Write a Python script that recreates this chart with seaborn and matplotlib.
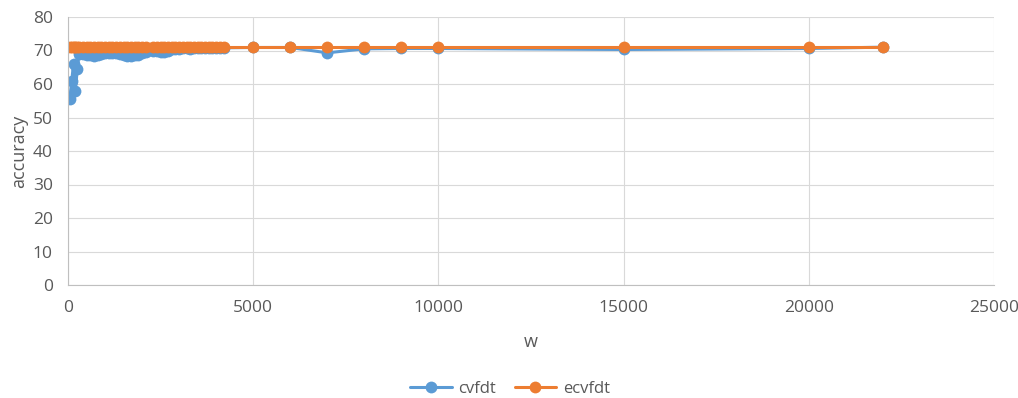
import matplotlib
matplotlib.use("Agg")
import matplotlib.pyplot as plt
import seaborn as sns
import pandas as pd
import numpy as np

sns.set_style("white")
plt.rcParams['font.family'] = ['Open Sans', 'DejaVu Sans']

# window sizes
w = [50, 100, 150, 200, 250, 300, 400, 500, 600, 700, 800, 900, 1000,
     1100, 1200, 1300, 1400, 1500, 1600, 1700, 1800, 1900, 2000, 2100,
     2300, 2400, 2500, 2600, 2700, 2800, 2900, 3000, 3100, 3200, 3300,
     3400, 3500, 3600, 3700, 3800, 3900, 4000, 4100, 4200,
     5000, 6000, 7000, 8000, 9000, 10000, 15000, 20000, 22000]

cvfdt = [55.5, 61, 66, 58, 64.5, 69, 69, 68.8, 68.6, 68.5, 68.7, 69, 69.2,
         69.3, 69.3, 69.2, 69, 68.7, 68.5, 68.5, 68.6, 68.8, 69.2, 69.6,
         70, 69.8, 69.6, 69.7, 70, 70.3, 70.5, 70.5, 70.6, 70.6, 70.5,
         70.6, 70.6, 70.6, 70.7, 70.7, 70.7, 70.7, 70.7, 70.8,
         70.9, 70.9, 69.3, 70.5, 70.6, 70.6, 70.3, 70.6, 71.0]

ecvfdt = [71.1] * 44 + [71.1, 71.1, 71.1, 71.1, 71.1, 71.1, 71.1, 71.1, 71.1]

df = pd.DataFrame({'w': w * 2,
                   'accuracy': cvfdt + ecvfdt,
                   'series': ['cvfdt'] * len(w) + ['ecvfdt'] * len(w)})

fig = plt.figure(figsize=(10.18, 3.98), dpi=100)
ax = fig.add_axes([68 / 1018, 1 - 285 / 398, 926 / 1018, 268 / 398])

sns.lineplot(data=df, x='w', y='accuracy', hue='series',
             palette={'cvfdt': '#5B9BD5', 'ecvfdt': '#ED7D31'},
             marker='o', markersize=8.5, markeredgewidth=0, linewidth=2.2,
             sort=False, ax=ax, legend=True)

ax.set_xlim(0, 25000)
ax.set_ylim(0, 80)
ax.set_xticks(np.arange(0, 25001, 5000))
ax.set_yticks(np.arange(0, 81, 10))
ax.grid(True, color='#D9D9D9', linewidth=0.8)
ax.set_axisbelow(True)
for s in ['top', 'right']:
    ax.spines[s].set_visible(False)
for s in ['left', 'bottom']:
    ax.spines[s].set_color('#BFBFBF')
    ax.spines[s].set_linewidth(0.8)
ax.tick_params(colors='#595959', labelsize=12.5, length=0)
ax.tick_params(axis='y', pad=11)
ax.tick_params(axis='x', pad=11)
ax.set_xlabel('w', color='#595959', fontsize=13, labelpad=12)
ax.set_ylabel('accuracy', color='#595959', fontsize=13, labelpad=3)

handles, labels = ax.get_legend_handles_labels()
ax.get_legend().remove()
leg = fig.legend(handles, labels, loc='center',
                 bbox_to_anchor=(510 / 1018, 1 - 389 / 398), ncol=2,
                 frameon=False, fontsize=12, handlelength=2.5,
                 columnspacing=1.1, handletextpad=0.4)
for t in leg.get_texts():
    t.set_color('#595959')

fig.savefig('out.png', dpi=100)
